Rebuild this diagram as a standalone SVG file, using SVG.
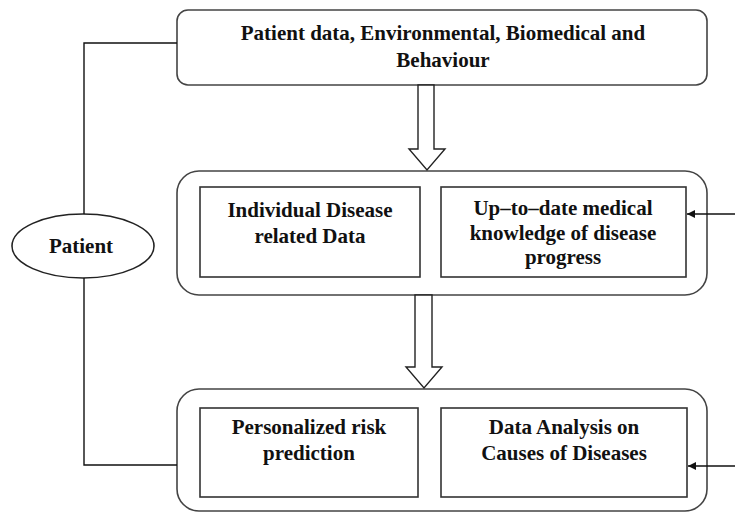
<svg xmlns="http://www.w3.org/2000/svg" width="735" height="513" viewBox="0 0 735 513">
  <style>
    .frame { fill: #fff; stroke: #444; stroke-width: 1.6; }
    .inner { fill: #fff; stroke: #333; stroke-width: 1.6; }
    .wire { fill: none; stroke: #111; stroke-width: 1.4; }
    .bigarrow { fill: #fff; stroke: #222; stroke-width: 1.4; stroke-linejoin: miter; }
    text { font-family: "Liberation Serif", "Times New Roman", serif; font-weight: bold; font-size: 21px; fill: #111; text-anchor: middle; }
  </style>
  <defs>
    <marker id="head" viewBox="0 0 10 10" refX="10" refY="5" markerWidth="9" markerHeight="8" markerUnits="userSpaceOnUse" orient="auto">
      <path d="M0,0 L10,5 L0,10 z" fill="#111"/>
    </marker>
  </defs>

  <g id="data-sources">
    <rect class="frame" x="177" y="10" width="530" height="75" rx="11"/>
    <text x="443" y="40">Patient data, Environmental, Biomedical and</text>
    <text x="443" y="67">Behaviour</text>
  </g>

  <g id="knowledge-stage">
    <rect class="frame" x="177" y="171" width="530" height="124" rx="22"/>
    <g id="disease-data">
      <rect class="inner" x="200" y="187" width="220" height="90"/>
      <text x="310" y="217">Individual Disease</text>
      <text x="310" y="243">related Data</text>
    </g>
    <g id="medical-knowledge">
      <rect class="inner" x="441" y="187" width="245" height="90"/>
      <text x="563" y="215">Up–to–date medical</text>
      <text x="563" y="240">knowledge of disease</text>
      <text x="563" y="264">progress</text>
    </g>
  </g>

  <g id="analysis-stage">
    <rect class="frame" x="177" y="389" width="530" height="122" rx="22"/>
    <g id="risk-prediction">
      <rect class="inner" x="200" y="408" width="218" height="89"/>
      <text x="309" y="434">Personalized risk</text>
      <text x="309" y="460">prediction</text>
    </g>
    <g id="cause-analysis">
      <rect class="inner" x="441" y="408" width="246" height="89"/>
      <text x="564" y="434">Data Analysis on</text>
      <text x="564" y="460">Causes of Diseases</text>
    </g>
  </g>

  <g id="patient">
    <ellipse class="frame" cx="83" cy="246" rx="71" ry="32" style="stroke:#222"/>
    <text x="81" y="253">Patient</text>
  </g>

  <g id="connectors">
    <!-- patient loop -->
    <polyline class="wire" points="177,43 84,43 84,214"/>
    <polyline class="wire" points="84,278 84,465 177,465"/>
    <!-- external inputs on the right -->
    <line class="wire" x1="735" y1="214" x2="687" y2="214" marker-end="url(#head)"/>
    <line class="wire" x1="735" y1="466" x2="688" y2="466" marker-end="url(#head)"/>
    <!-- hollow block arrows between stages -->
    <path class="bigarrow" d="M418,85 L434,85 L434,149 L445,149 L427,170 L409,149 L418,149 z"/>
    <path class="bigarrow" d="M415,295 L432,295 L432,367 L442,367 L424,388 L406,367 L415,367 z"/>
  </g>
</svg>
